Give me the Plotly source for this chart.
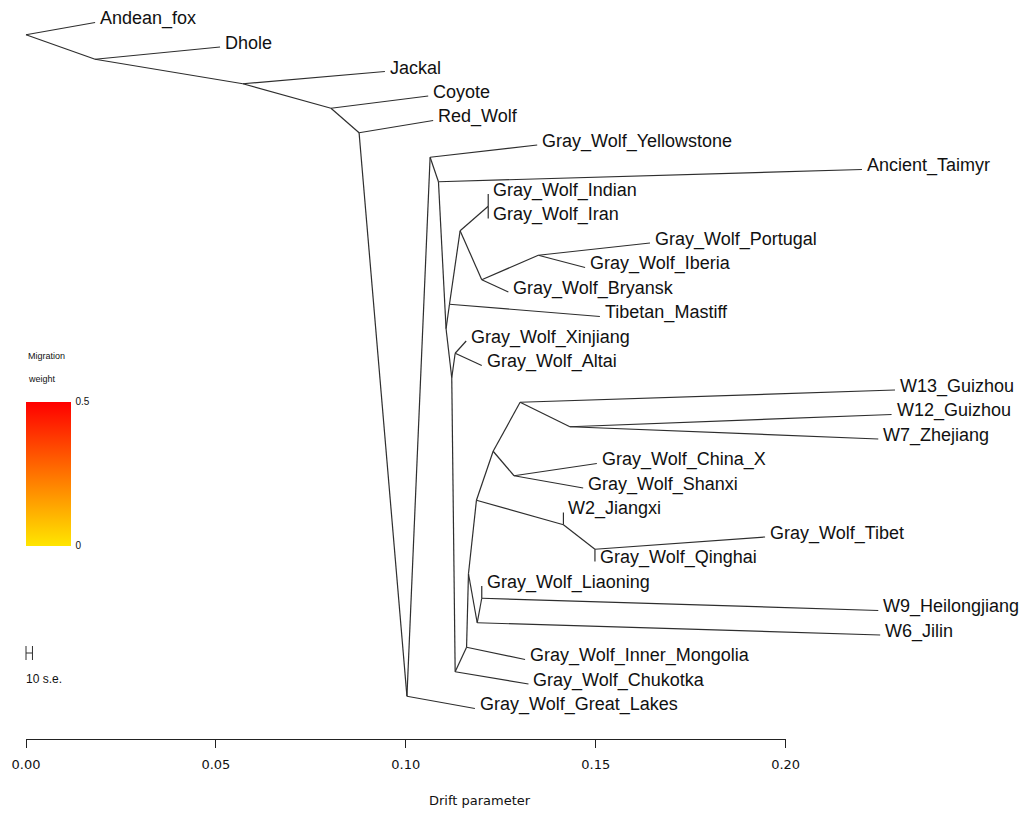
import plotly.graph_objects as go

# ---- tree data: leaves (rows 0..28 from top) ----
LEAF_NAMES = [
    "Andean_fox", "Dhole", "Jackal", "Coyote", "Red_Wolf",
    "Gray_Wolf_Yellowstone", "Ancient_Taimyr", "Gray_Wolf_Indian", "Gray_Wolf_Iran",
    "Gray_Wolf_Portugal", "Gray_Wolf_Iberia", "Gray_Wolf_Bryansk", "Tibetan_Mastiff",
    "Gray_Wolf_Xinjiang", "Gray_Wolf_Altai", "W13_Guizhou", "W12_Guizhou", "W7_Zhejiang",
    "Gray_Wolf_China_X", "Gray_Wolf_Shanxi", "W2_Jiangxi", "Gray_Wolf_Tibet",
    "Gray_Wolf_Qinghai", "Gray_Wolf_Liaoning", "W9_Heilongjiang", "W6_Jilin",
    "Gray_Wolf_Inner_Mongolia", "Gray_Wolf_Chukotka", "Gray_Wolf_Great_Lakes",
]
LEAF_DRIFT = [
    0.0182, 0.0511, 0.0945, 0.1059, 0.1072,
    0.1346, 0.2201, 0.1217, 0.1217,
    0.1643, 0.1472, 0.1270, 0.1511,
    0.1159, 0.1200, 0.2288, 0.2279, 0.2244,
    0.1503, 0.1467, 0.1415, 0.1946,
    0.1498, 0.1200, 0.2244, 0.2249,
    0.1314, 0.1323, 0.1182,
]
LEAF_PARENT = [
    "root", "n_b", "n_c", "n_d", "n_e",
    "n_g", "n_h", "n_ii", "n_ii",
    "n_pi", "n_pi", "n_br", "n_j",
    "n_m", "n_m", "n_p", "n_q", "n_q",
    "n_r", "n_r", "n_s", "n_t",
    "n_t", "n_u", "n_u", "n_v",
    "n_y", "n_z", "n_f",
]

# ---- internal nodes ----
NODE_NAMES = ["root", "n_b", "n_c", "n_d", "n_e", "n_f", "n_g", "n_h", "n_n1", "n_j",
              "n_k", "n_ii", "n_br", "n_pi", "n_l", "n_m", "n_z", "n_y", "n_x", "n_n",
              "n_o", "n_p", "n_q", "n_r", "n_s", "n_t", "n_v", "n_u"]
NODE_DRIFT = [0.0, 0.0182, 0.0571, 0.0803, 0.0877, 0.1003, 0.1064, 0.1086, 0.1106, 0.1115,
              0.1143, 0.1217, 0.1200, 0.1349, 0.1121, 0.1130, 0.1130, 0.1160, 0.1165, 0.1186,
              0.1230, 0.1301, 0.1432, 0.1285, 0.1415, 0.1498, 0.1188, 0.1200]
NODE_ROW = [0.5, 1.5, 2.5, 3.5, 4.5, 27.5, 5.5, 6.5, 12.5, 11.5,
            8.5, 7.5, 10.5, 9.5, 14.5, 13.5, 26.5, 25.5, 22.5, 19.5,
            17.5, 15.5, 16.5, 18.5, 20.5, 21.5, 24.5, 23.5]
NODE_PARENT = [None, "root", "n_b", "n_c", "n_d", "n_e", "n_f", "n_g", "n_h", "n_n1",
               "n_j", "n_k", "n_k", "n_br", "n_n1", "n_l", "n_l", "n_z", "n_y", "n_x",
               "n_n", "n_o", "n_p", "n_o", "n_n", "n_s", "n_x", "n_v"]

# ---- legend / scale values ----
MIG_RANGE = [0.0, 0.5]
TEN_SE = 0.0017
AXIS_TICKS = [0.0, 0.05, 0.10, 0.15, 0.20]
AXIS_TICKTEXT = ["0.00", "0.05", "0.10", "0.15", "0.20"]

W, H = 1030, 813
X0_PX, PX_PER_UNIT = 26.0, 3798.0      # drift -> pixel
Y0_PX, PX_PER_ROW = 22.5, 24.5         # row -> pixel
LINE_COLOR = "#2e2e2e"
TEXT_COLOR = "#111111"
LABEL_FONT = "Liberation Sans, Arial, sans-serif"
AXIS_FONT = "DejaVu Sans, sans-serif"

pos = {n: (d, r) for n, d, r in zip(NODE_NAMES, NODE_DRIFT, NODE_ROW)}
for i, (n, d) in enumerate(zip(LEAF_NAMES, LEAF_DRIFT)):
    pos[n] = (d, float(i))

ex, ey = [], []
for child, parent in list(zip(NODE_NAMES, NODE_PARENT)) + list(zip(LEAF_NAMES, LEAF_PARENT)):
    if parent is None:
        continue
    px, py = pos[parent]
    cx, cy = pos[child]
    ex += [px, cx, None]
    ey += [py, cy, None]

fig = go.Figure()
fig.add_trace(go.Scatter(x=ex, y=ey, mode="lines",
                         line=dict(color=LINE_COLOR, width=1.2),
                         hoverinfo="skip", showlegend=False))

# leaf labels
for n, d in zip(LEAF_NAMES, LEAF_DRIFT):
    fig.add_annotation(x=d, y=pos[n][1], text=n, showarrow=False,
                       xanchor="left", yanchor="middle", xshift=3, yshift=4,
                       font=dict(family=LABEL_FONT, size=18, color=TEXT_COLOR))

# 10 s.e. scale bar
sb_row = (653 - Y0_PX) / PX_PER_ROW
cap = 7 / PX_PER_ROW
fig.add_trace(go.Scatter(
    x=[0, 0, None, 0, TEN_SE, None, TEN_SE, TEN_SE],
    y=[sb_row - cap, sb_row + cap, None, sb_row, sb_row, None, sb_row - cap, sb_row + cap],
    mode="lines", line=dict(color=LINE_COLOR, width=1), hoverinfo="skip", showlegend=False))
fig.add_annotation(x=0, y=(679 - Y0_PX) / PX_PER_ROW, text="10 s.e.", showarrow=False,
                   xanchor="left", yanchor="middle", xshift=-2,
                   font=dict(family=LABEL_FONT, size=12, color=TEXT_COLOR))

# migration weight colour bar
fig.add_trace(go.Scatter(
    x=[None, None], y=[None, None], mode="markers", hoverinfo="skip", showlegend=False,
    marker=dict(color=MIG_RANGE, cmin=MIG_RANGE[0], cmax=MIG_RANGE[1],
                colorscale=[[0, "#FFE600"], [1, "#FF0000"]], showscale=True,
                colorbar=dict(x=26 / W, xanchor="left", y=1 - 401.5 / H, yanchor="top",
                              len=144, lenmode="pixels", thickness=45, thicknessmode="pixels",
                              xpad=0, ypad=0, outlinewidth=0, ticks="outside", ticklen=3,
                              tickcolor="rgba(0,0,0,0)",
                              tickvals=MIG_RANGE, ticktext=["0", "0.5"],
                              tickfont=dict(family=LABEL_FONT, size=10, color=TEXT_COLOR)))))
fig.add_annotation(x=26 / W, y=1 - 356.5 / H, xref="paper", yref="paper", text="Migration",
                   showarrow=False, xanchor="left", yanchor="middle",
                   font=dict(family=LABEL_FONT, size=9, color=TEXT_COLOR))
fig.add_annotation(x=26 / W, y=1 - 378.5 / H, xref="paper", yref="paper", text="weight",
                   showarrow=False, xanchor="left", yanchor="middle",
                   font=dict(family=LABEL_FONT, size=9, color=TEXT_COLOR))

# drift axis drawn on its own x axis spanning 0..0.2
fig.add_trace(go.Scatter(x=[None], y=[None], xaxis="x2", yaxis="y",
                         hoverinfo="skip", showlegend=False))
fig.add_annotation(x=480 / W, y=1 - 800 / H, xref="paper", yref="paper",
                   text="Drift parameter", showarrow=False,
                   xanchor="center", yanchor="middle",
                   font=dict(family=AXIS_FONT, size=13, color=TEXT_COLOR))

fig.update_layout(
    width=W, height=H, margin=dict(l=0, r=0, t=0, b=0, autoexpand=False),
    paper_bgcolor="white", plot_bgcolor="rgba(0,0,0,0)",
    xaxis=dict(range=[-X0_PX / PX_PER_UNIT, (W - X0_PX) / PX_PER_UNIT], visible=False,
               domain=[0, 1]),
    yaxis=dict(range=[(H - Y0_PX) / PX_PER_ROW, -Y0_PX / PX_PER_ROW], visible=False,
               domain=[0, 1]),
    xaxis2=dict(domain=[X0_PX / W, (X0_PX + 0.2 * PX_PER_UNIT) / W], range=[0, 0.2],
                anchor="free", position=1 - 739 / H, showline=True, linecolor="#222222",
                linewidth=1, ticks="outside", ticklen=8, tickwidth=1, tickcolor="#222222",
                tickvals=AXIS_TICKS, ticktext=AXIS_TICKTEXT, showgrid=False, zeroline=False,
                ticklabelstandoff=5,
                tickfont=dict(family=AXIS_FONT, size=13, color=TEXT_COLOR)),
    showlegend=False,
)

fig.write_html("out.html")
